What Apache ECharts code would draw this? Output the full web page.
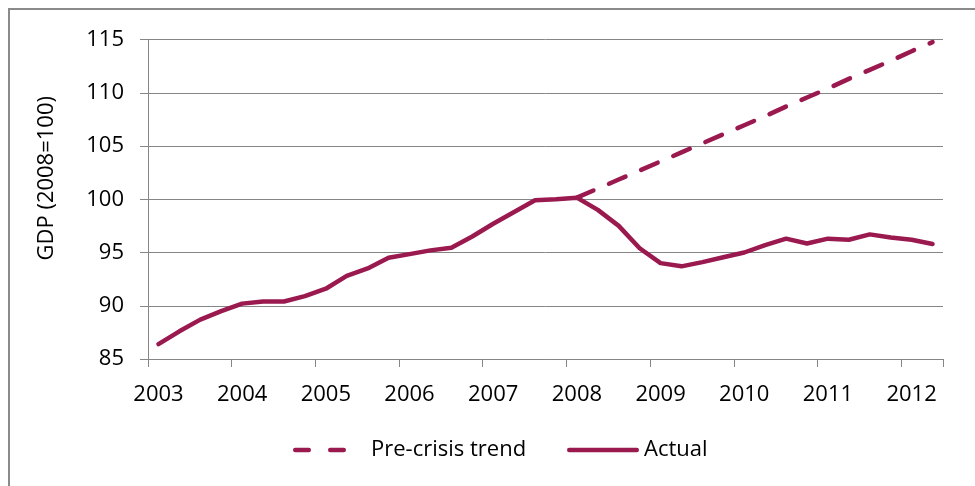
<!DOCTYPE html>
<html>
<head>
<meta charset="utf-8">
<script src="https://cdn.jsdelivr.net/npm/echarts@6/dist/echarts.min.js"></script>
<style>
  html, body { margin: 0; padding: 0; background: #ffffff; }
  #chart { width: 975px; height: 486px; }
</style>
</head>
<body>
<div id="chart"></div>
<script>
// Quarterly categories, 2003 Q1 – 2012 Q2
const quarters = [
  '2003 Q1','2003 Q2','2003 Q3','2003 Q4',
  '2004 Q1','2004 Q2','2004 Q3','2004 Q4',
  '2005 Q1','2005 Q2','2005 Q3','2005 Q4',
  '2006 Q1','2006 Q2','2006 Q3','2006 Q4',
  '2007 Q1','2007 Q2','2007 Q3','2007 Q4',
  '2008 Q1','2008 Q2','2008 Q3','2008 Q4',
  '2009 Q1','2009 Q2','2009 Q3','2009 Q4',
  '2010 Q1','2010 Q2','2010 Q3','2010 Q4',
  '2011 Q1','2011 Q2','2011 Q3','2011 Q4',
  '2012 Q1','2012 Q2'
];

// Actual GDP index (2008 = 100)
const actual = [
  86.4, 87.6, 88.7, 89.5,
  90.2, 90.4, 90.4, 90.9,
  91.6, 92.8, 93.5, 94.5,
  94.85, 95.2, 95.45, 96.5,
  97.7, 98.8, 99.9, 100.0,
  100.15, 99.0, 97.5, 95.4,
  94.0, 93.7, 94.1, 94.55,
  95.0, 95.7, 96.3, 95.85,
  96.3, 96.2, 96.7, 96.4,
  96.2, 95.8
];

// Pre-crisis trend, starting 2008 Q1
const trend = [
  null, null, null, null,
  null, null, null, null,
  null, null, null, null,
  null, null, null, null,
  null, null, null, null,
  100.15, 101.0, 101.85, 102.7,
  103.55, 104.4, 105.25, 106.1,
  106.95, 107.8, 108.7, 109.55,
  110.4, 111.3, 112.15, 113.0,
  113.9, 114.75
];

const yTicks = { min: 85, max: 115, step: 5 };
const seriesNames = ['Pre-crisis trend', 'Actual'];
const yName = 'GDP (2008=100)';

const COLOR = '#9a1a4f';
const AXIS = '#868686';
const FONT = 'Open Sans';

// legend icons: two round-capped dashes / one round-capped solid stroke
const dashIcon = 'path://M2.2,0 H15.8 A2.2,2.2 0 0 1 15.8,4.4 H2.2 A2.2,2.2 0 0 1 2.2,0 Z ' +
                 'M37.2,0 H50.8 A2.2,2.2 0 0 1 50.8,4.4 H37.2 A2.2,2.2 0 0 1 37.2,0 Z';
const solidIcon = 'path://M2.2,0 H69.8 A2.2,2.2 0 0 1 69.8,4.4 H2.2 A2.2,2.2 0 0 1 2.2,0 Z';

const chart = echarts.init(document.getElementById('chart'));
chart.setOption({
  animation: false,
  backgroundColor: '#ffffff',
  textStyle: { fontFamily: FONT },
  graphic: [{
    type: 'rect',
    shape: { x: 9, y: 9, width: 1200, height: 800 },
    style: { fill: 'none', stroke: '#8a8a8a', lineWidth: 2 },
    silent: true,
    z: -10
  }],
  grid: {
    left: 148, right: 32, top: 39.5, bottom: 127,
    outerBoundsMode: 'none'
  },
  legend: [{
    data: [{ name: seriesNames[0], icon: dashIcon }],
    left: 293, top: 439, padding: 0,
    itemWidth: 53, itemHeight: 4.4,
    textStyle: { fontFamily: FONT, fontSize: 22, color: '#000', padding: [0, 0, 0, 20] }
  }, {
    data: [{ name: seriesNames[1], icon: solidIcon }],
    left: 567, top: 439, padding: 0,
    itemWidth: 72, itemHeight: 4.4,
    textStyle: { fontFamily: FONT, fontSize: 22, color: '#000' }
  }],
  xAxis: {
    type: 'category',
    data: quarters,
    boundaryGap: true,
    axisLine: { show: true, lineStyle: { color: AXIS, width: 1 } },
    axisTick: { show: true, interval: 3, length: 8, inside: false, lineStyle: { color: AXIS } },
    axisLabel: {
      interval: 3,
      margin: 25,
      fontSize: 22,
      fontFamily: FONT,
      color: '#000',
      formatter: v => v.slice(0, 4)
    },
    splitLine: { show: false }
  },
  yAxis: {
    type: 'value',
    min: yTicks.min, max: yTicks.max, interval: yTicks.step,
    name: yName,
    nameLocation: 'middle',
    nameRotate: 90,
    nameGap: 90,
    nameTextStyle: { fontFamily: FONT, fontSize: 22, color: '#000', padding: [0, 0, 0, 42] },
    axisLine: { show: true, lineStyle: { color: AXIS, width: 1 } },
    axisTick: { show: true, length: 8, lineStyle: { color: AXIS } },
    axisLabel: { margin: 24, fontSize: 22, fontFamily: FONT, color: '#000' },
    splitLine: { show: true, lineStyle: { color: AXIS, width: 1 } }
  },
  series: [{
    name: seriesNames[0],
    type: 'line',
    data: trend,
    symbol: 'none',
    showSymbol: false,
    lineStyle: { color: COLOR, width: 4.5, type: [18, 17], cap: 'round' },
    itemStyle: { color: COLOR },
    z: 3
  }, {
    name: seriesNames[1],
    type: 'line',
    data: actual,
    symbol: 'none',
    showSymbol: false,
    lineStyle: { color: COLOR, width: 4.5, type: 'solid', cap: 'round', join: 'round' },
    itemStyle: { color: COLOR },
    z: 4
  }]
});
</script>
</body>
</html>
